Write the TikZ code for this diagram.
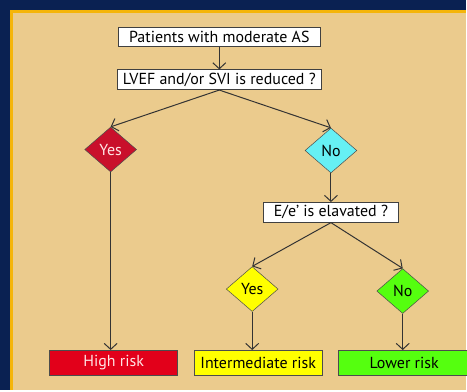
\documentclass[tikz,border=0pt]{standalone}
\usepackage{fontspec}
\setmainfont{PT Sans}
\usetikzlibrary{shapes.geometric,arrows.meta}
\definecolor{navy}{HTML}{0A2152}
\definecolor{panel}{HTML}{EBCB8D}
\definecolor{rim}{HTML}{F5B50A}
\definecolor{riskred}{HTML}{E2001A}
\definecolor{yesred}{HTML}{C9102B}
\definecolor{nocyan}{HTML}{66F0F4}
\definecolor{yesyellow}{HTML}{FFFF00}
\definecolor{nogreen}{HTML}{55FF0F}
\begin{document}
\begin{tikzpicture}[
            x=1pt, y=-1pt,
            every node/.style = {font=\fontsize{16}{18}\selectfont, inner sep=0pt},
            question/.style = {draw=black!75, line width=0.7pt, fill=white, rectangle, minimum height=20pt},
            answer/.style = {draw=black!70, line width=0.5pt, diamond, minimum width=52pt, minimum height=45pt},
            risk/.style = {draw=black!70, line width=0.7pt, rectangle, minimum width=129pt, minimum height=25pt},
            link/.style = {draw=black!80, line width=1pt, -{Straight Barb[length=6pt,width=13pt]}}
        ]

        % background and panel
        \fill[navy] (0,0) rectangle (467,391);
        \fill[panel] (10,10) rectangle (467,391);
        \draw[rim, line width=3pt] (11.5,391) -- (11.5,11.5) -- (467,11.5);
        \useasboundingbox (0,0) rectangle (467,391);

        % questions
        \node[question, minimum width=203pt] (patients) at (220,37) {Patients with moderate AS};
        \node[question, minimum width=204pt] (lvef) at (220,80) {LVEF and/or SVI is reduced ?};
        \node[question, minimum width=135pt] (ee) at (332,213) {E/e’ is elavated ?};

        % answers
        \node[answer, fill=yesred, text=white!90!red] (yesA) at (111,150) {Yes};
        \node[answer, fill=nocyan] (noA) at (332,151) {No};
        \node[answer, fill=yesyellow] (yesB) at (253,290) {Yes};
        \node[answer, fill=nogreen] (noB) at (404,292) {No};

        % outcomes
        \node[risk, fill=riskred, minimum width=128pt, text=white!90!red] (high) at (114,364) {High risk};
        \node[risk, fill=yesyellow] (inter) at (259,364) {Intermediate risk};
        \node[risk, fill=nogreen, minimum width=133pt] (lower) at (405.5,364) {Lower risk};

        % connectors
        \draw[link] (patients) -- (lvef);
        \draw[link] (lvef.south) -- (yesA.north);
        \draw[link] (lvef.south) -- (noA.north);
        \draw[link] (noA) -- (ee);
        \draw[link] (ee.south) -- (yesB.north);
        \draw[link] (ee.south) -- (noB.north);
        \draw[link] (yesA.south) -- (yesA.south |- high.north);
        \draw[link] (yesB.south) -- (yesB.south |- inter.north);
        \draw[link] (noB.south) -- (noB.south |- lower.north);
    \end{tikzpicture}
\end{document}
